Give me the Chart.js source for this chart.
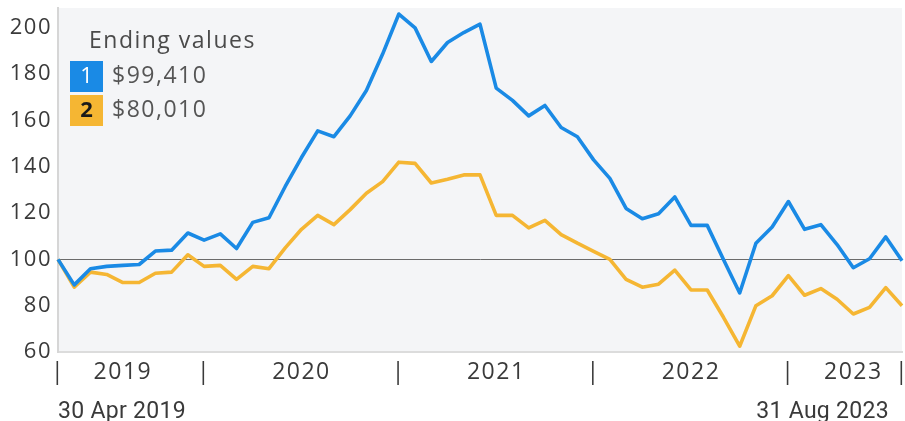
<!DOCTYPE html>
<html>
<head>
<meta charset="utf-8">
<script src="https://cdn.jsdelivr.net/npm/chart.js@4"></script>
<style>
  html, body { margin: 0; padding: 0; background: #ffffff; }
  #wrap { width: 905px; height: 421px; position: relative; }
</style>
</head>
<body>
<div id="wrap"><canvas id="c" width="905" height="421"></canvas></div>
<script>
// ---- data ----
const months = [
  'Apr 2019','May 2019','Jun 2019','Jul 2019','Aug 2019','Sep 2019','Oct 2019','Nov 2019','Dec 2019',
  'Jan 2020','Feb 2020','Mar 2020','Apr 2020','May 2020','Jun 2020','Jul 2020','Aug 2020','Sep 2020','Oct 2020','Nov 2020','Dec 2020',
  'Jan 2021','Feb 2021','Mar 2021','Apr 2021','May 2021','Jun 2021','Jul 2021','Aug 2021','Sep 2021','Oct 2021','Nov 2021','Dec 2021',
  'Jan 2022','Feb 2022','Mar 2022','Apr 2022','May 2022','Jun 2022','Jul 2022','Aug 2022','Sep 2022','Oct 2022','Nov 2022','Dec 2022',
  'Jan 2023','Feb 2023','Mar 2023','Apr 2023','May 2023','Jun 2023','Jul 2023','Aug 2023'
];
const series1 = [
  100, 89, 96, 97, 97.4, 97.8, 103.6, 104, 111.4,
  108.3, 111, 104.7, 116, 118, 131.5, 144, 155.5, 153, 162, 173, 188.7,
  206, 200, 185.5, 193.7, 198, 201.6, 174, 168.7, 162, 166.5, 157, 153,
  143, 135, 122, 117.6, 119.7, 127, 114.7, 114.7, 100, 85.5, 107, 114,
  125, 113, 115, 106.4, 96.4, 100.3, 109.7, 99.41
];
const series2 = [
  100, 88, 94.5, 93.5, 90, 90, 94, 94.5, 102,
  97, 97.4, 91.4, 97, 96, 105, 113, 119, 115, 121.5, 128.6, 133.6,
  142, 141.5, 133, 134.6, 136.5, 136.5, 119, 119, 113.6, 116.9, 110.7, 107,
  103.5, 100, 91.4, 88, 89.3, 95.4, 86.8, 86.8, 75, 62.5, 80, 84.3,
  93, 84.5, 87.4, 82.8, 76.4, 79.3, 87.8, 80.01
];
const seriesNames = ['1', '2'];
const legendTitle = 'Ending values';
const yTicks = [60, 80, 100, 120, 140, 160, 180, 200];
const baseline = 100;
const yearSeparators = [0, 9, 21, 33, 45, 52];
const yearLabelIdx = [4, 15, 27, 39, 49];
const yearLabels = ['2019', '2020', '2021', '2022', '2023'];
const startLabel = '30 Apr 2019';
const endLabel = '31 Aug 2023';

// ---- styles ----
const BLUE = '#1a8ae5';
const ORANGE = '#f5b633';
const TEXT = '#3a3a3a';
const FONT = '"Open Sans", "Noto Sans", sans-serif';

const bgPlugin = {
  id: 'bg',
  beforeDraw(chart) {
    const { ctx, chartArea: a } = chart;
    ctx.save();
    ctx.fillStyle = '#f4f5f7';
    ctx.fillRect(a.left, a.top, a.right - a.left, a.bottom - a.top);
    ctx.restore();
    ctx.letterSpacing = '1.5px';
  }
};

const fmt = v => '$' + Math.round(v * 1000).toLocaleString('en-US');

const annoPlugin = {
  id: 'anno',
  afterDraw(chart) {
    const { ctx, chartArea: a } = chart;
    ctx.save();
    ctx.letterSpacing = '1.5px';
    ctx.fillStyle = '#4a4a4a';
    ctx.font = '23px ' + FONT;
    ctx.textBaseline = 'alphabetic';
    ctx.textAlign = 'left';
    ctx.fillText(legendTitle, 89, 48);
    const items = [
      { color: BLUE, num: seriesNames[0], numColor: '#ffffff', val: fmt(series1[series1.length - 1]), top: 61 },
      { color: ORANGE, num: seriesNames[1], numColor: '#1a1a1a', val: fmt(series2[series2.length - 1]), top: 95 }
    ];
    items.forEach(it => {
      ctx.fillStyle = it.color;
      ctx.fillRect(70, it.top, 33, 31);
      ctx.fillStyle = it.numColor;
      ctx.letterSpacing = '0px';
      ctx.font = (it.num === '2' ? 'bold ' : '') + '22px ' + FONT;
      ctx.textAlign = 'center';
      ctx.textBaseline = 'middle';
      ctx.fillText(it.num, 86.5, it.top + 16);
      ctx.letterSpacing = '1.5px';
      ctx.fillStyle = '#555555';
      ctx.font = '23px ' + FONT;
      ctx.textAlign = 'left';
      ctx.textBaseline = 'middle';
      ctx.fillText(it.val, 112, it.top + 15);
    });
    ctx.fillStyle = TEXT;
    ctx.letterSpacing = '0.3px';
    ctx.font = '23px Roboto, sans-serif';
    ctx.textBaseline = 'alphabetic';
    ctx.textAlign = 'left';
    ctx.fillText(startLabel, a.left, 418);
    ctx.textAlign = 'right';
    ctx.fillText(endLabel, a.right - 13, 418);
    ctx.restore();
  }
};

const tickMap = {};
yearSeparators.forEach(i => tickMap[i] = '|');
yearLabelIdx.forEach((i, k) => tickMap[i] = yearLabels[k]);

new Chart(document.getElementById('c'), {
  type: 'line',
  data: {
    labels: months,
    datasets: [
      { label: seriesNames[0], data: series1, borderColor: BLUE, borderWidth: 3.6, pointRadius: 0, tension: 0, borderJoinStyle: 'round' },
      { label: seriesNames[1], data: series2, borderColor: ORANGE, borderWidth: 3.6, pointRadius: 0, tension: 0, borderJoinStyle: 'round' }
    ]
  },
  options: {
    responsive: false,
    animation: false,
    devicePixelRatio: 1,
    layout: { padding: { top: 8, right: 3, left: 0, bottom: 0 } },
    plugins: { legend: { display: false }, tooltip: { enabled: false } },
    scales: {
      x: {
        type: 'category',
        offset: false,
        grid: { display: false, drawTicks: false },
        border: { display: true, color: '#dcdcdc', width: 2 },
        afterFit: s => { s.height = 69; s.paddingLeft = 0; s.paddingRight = 0; },
        ticks: {
          autoSkip: false,
          maxRotation: 0,
          minRotation: 0,
          padding: 7,
          color: TEXT,
          font: { family: FONT, size: 23 },
          callback: (v, i) => tickMap[i] !== undefined ? tickMap[i] : ''
        }
      },
      y: {
        min: 60,
        max: 208.6,
        afterBuildTicks: s => { s.ticks = yTicks.map(v => ({ value: v })); },
        afterFit: s => { s.width = 58; s.paddingTop = 0; s.paddingBottom = 0; },
        grid: {
          drawTicks: false,
          color: c => (c.tick && c.tick.value === baseline) ? '#6b6b6b' : 'rgba(0,0,0,0)',
          lineWidth: 1
        },
        border: { display: true, color: '#d6d6d6', width: 2 },
        ticks: {
          padding: 6,
          color: TEXT,
          font: { family: FONT, size: 22 }
        }
      }
    }
  },
  plugins: [bgPlugin, annoPlugin]
});
</script>
</body>
</html>
